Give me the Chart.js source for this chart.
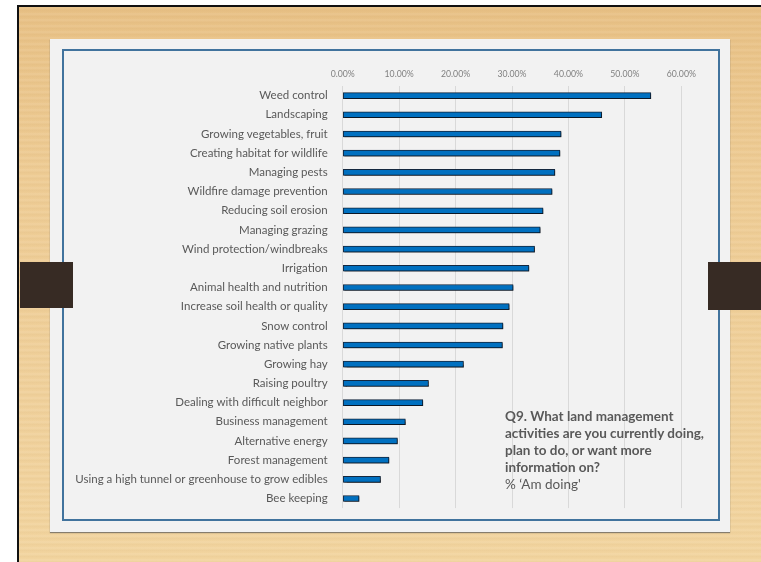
<!DOCTYPE html>
<html>
<head>
<meta charset="utf-8">
<script src="https://cdn.jsdelivr.net/npm/chart.js@4"></script>
<style>
  html, body { margin: 0; padding: 0; background: #fff; overflow: hidden; }
  #stage { position: relative; width: 761px; height: 562px; font-family: Lato, sans-serif; }
  .abs { position: absolute; }
  #wood {
    left: 17px; top: 5px; right: 0; bottom: 0;
    border-left: 2px solid #111; border-top: 2px solid #111;
    background:
      repeating-linear-gradient(180deg, rgba(255,255,255,0.05) 0px, rgba(255,255,255,0.05) 2px, rgba(160,110,40,0.05) 3px, rgba(160,110,40,0.0) 6px),
      linear-gradient(180deg, #e8c186 0%, #eecc95 30%, #f0d19c 70%, #f2d5a0 100%);
  }
  #slide { left: 50px; top: 39px; width: 680px; height: 493px; background: #f2f2f2; box-shadow: 0 1px 1px rgba(90,90,90,0.7); }
  #frame { left: 62px; top: 49px; width: 654px; height: 468px; border: 2px solid #41739d; }
  #box { left: 64px; top: 51px; width: 654px; height: 479px; }
  #box canvas { display: block; }
  .tab { background: #372b24; }
  #note { left: 505px; top: 408px; width: 220px; color: #595959; font-size: 13.5px; line-height: 17px; }
  #note b { font-weight: 700; }
</style>
</head>
<body>
<div id="stage">
  <div id="wood" class="abs"></div>
  <div id="slide" class="abs"></div>
  <div id="frame" class="abs"></div>
  <div id="box" class="abs"><canvas id="chart" width="654" height="479"></canvas></div>
  <div class="abs tab" style="left:20px;top:262px;width:53px;height:46px;"></div>
  <div class="abs tab" style="left:708px;top:262px;width:53px;height:48px;"></div>
  <div id="note" class="abs"><b>Q9. What land management<br>activities are you currently doing,<br>plan to do, or want more<br>information on?</b><br>% ‘Am doing'</div>
</div>
<script>
const activities = [
  'Weed control',
  'Landscaping',
  'Growing vegetables, fruit',
  'Creating habitat for wildlife',
  'Managing pests',
  'Wildfire damage prevention',
  'Reducing soil erosion',
  'Managing grazing',
  'Wind protection/windbreaks',
  'Irrigation',
  'Animal health and nutrition',
  'Increase soil health or quality',
  'Snow control',
  'Growing native plants',
  'Growing hay',
  'Raising poultry',
  'Dealing with difficult neighbor',
  'Business management',
  'Alternative energy',
  'Forest management',
  'Using a high tunnel or greenhouse to grow edibles',
  'Bee keeping'
];
const amDoing = [54.6, 45.9, 38.7, 38.5, 37.6, 37.1, 35.5, 35.0, 34.0, 33.0, 30.2, 29.5,
                 28.4, 28.3, 21.4, 15.2, 14.2, 11.1, 9.7, 8.2, 6.7, 2.9];
const axisMax = 60;
const axisStep = 10;

const barShadow = {
  id: 'barShadow',
  beforeDatasetsDraw(chart) {
    const ctx = chart.ctx;
    ctx.save();
    ctx.shadowColor = 'rgba(0,0,0,0.45)';
    ctx.shadowOffsetX = 1;
    ctx.shadowOffsetY = 1;
    ctx.shadowBlur = 1;
  },
  afterDatasetsDraw(chart) {
    chart.ctx.restore();
  }
};

new Chart(document.getElementById('chart'), {
  type: 'bar',
  data: {
    labels: activities,
    datasets: [{
      label: '% Am doing',
      data: amDoing,
      backgroundColor: '#0070c0',
      borderColor: '#14283f',
      borderWidth: 1,
      borderSkipped: false,
      barThickness: 6
    }]
  },
  options: {
    indexAxis: 'y',
    responsive: false,
    animation: false,
    layout: { padding: { left: 0, right: 36.7, top: 0, bottom: 0 } },
    plugins: {
      legend: { display: false },
      tooltip: { enabled: false }
    },
    scales: {
      x: {
        position: 'top',
        min: 0,
        max: axisMax,
        ticks: {
          stepSize: axisStep,
          padding: 7,
          color: '#7f7f7f',
          font: { family: 'Lato', size: 8.7 },
          callback: v => v.toFixed(2) + '%'
        },
        grid: { color: '#d9d9d9', lineWidth: 1, drawTicks: false },
        border: { display: false },
        afterFit: s => { s.height = 35; }
      },
      y: {
        ticks: {
          padding: 15,
          color: '#595959',
          font: { family: 'Lato', size: 11.5 },
          autoSkip: false
        },
        grid: { display: false, drawTicks: false },
        border: { display: false },
        afterFit: s => { s.width = 278.7; }
      }
    }
  },
  plugins: [barShadow]
});
</script>
</body>
</html>
